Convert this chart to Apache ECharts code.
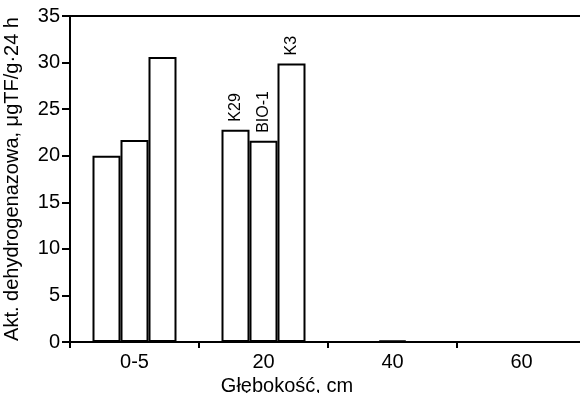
<!DOCTYPE html>
<html>
<head>
<meta charset="utf-8">
<script src="https://cdn.jsdelivr.net/npm/echarts@6/dist/echarts.min.js"></script>
<style>html,body{margin:0;padding:0;background:#fff;}#c{width:580px;height:393px;}</style>
</head>
<body>
<div id="c"></div>
<script>
var categories = ['0-5', '20', '40', '60'];
var seriesNames = ['K29', 'BIO-1', 'K3'];
var k29 = [20.0, 22.8, 0, 0];
var bio1 = [21.7, 21.6, 0.15, 0];
var k3 = [30.6, 29.9, 0, 0];
var labelCategory = '20';
var yTicks = {min: 0, max: 35, interval: 5};

var font = 'Liberation Sans, Arial, Helvetica, sans-serif';
function build(name, vals) {
  return {
    name: name,
    type: 'bar',
    barWidth: 28,
    barGap: '0%',
    itemStyle: {color: '#fff', borderColor: '#000', borderWidth: 2},
    data: vals.map(function (v, i) {
      var item = {value: v};
      if (categories[i] === labelCategory) {
        item.label = {
          show: true, position: 'top', rotate: 90, distance: 8,
          align: 'left', verticalAlign: 'middle',
          formatter: name, color: '#000', fontSize: 16, fontFamily: font
        };
      }
      return item;
    })
  };
}
var chart = echarts.init(document.getElementById('c'));
chart.setOption({
  animation: false,
  backgroundColor: '#fff',
  grid: {left: 70, top: 16, width: 516, height: 326, outerBoundsMode: 'none', containLabel: false, show: false},
  xAxis: [{
    type: 'category',
    data: categories,
    name: 'Głębokość, cm',
    nameLocation: 'middle',
    nameGap: 33,
    nameTextStyle: {color: '#000', fontSize: 20, fontFamily: font, padding: [0, 82, 0, 0]},
    axisLine: {lineStyle: {color: '#000', width: 2}},
    axisTick: {show: true, inside: false, length: 6, lineStyle: {color: '#000', width: 2}},
    axisLabel: {color: '#000', fontSize: 20, fontFamily: font, margin: 10},
    splitLine: {show: false}
  }, {
    type: 'category',
    data: categories,
    position: 'top',
    axisLine: {show: true, lineStyle: {color: '#000', width: 2}},
    axisTick: {show: false},
    axisLabel: {show: false},
    splitLine: {show: false}
  }],
  yAxis: {
    type: 'value',
    min: yTicks.min, max: yTicks.max, interval: yTicks.interval,
    name: 'Akt. dehydrogenazowa, μgTF/g·24 h',
    nameLocation: 'middle',
    nameGap: 48,
    nameTextStyle: {color: '#000', fontSize: 20, fontFamily: font},
    axisLine: {show: true, lineStyle: {color: '#000', width: 2}},
    axisTick: {show: true, inside: false, length: 8, lineStyle: {color: '#000', width: 2}},
    axisLabel: {color: '#000', fontSize: 20, fontFamily: font, margin: 10},
    splitLine: {show: false}
  },
  series: [build(seriesNames[0], k29), build(seriesNames[1], bio1), build(seriesNames[2], k3)]
});
</script>
</body>
</html>
